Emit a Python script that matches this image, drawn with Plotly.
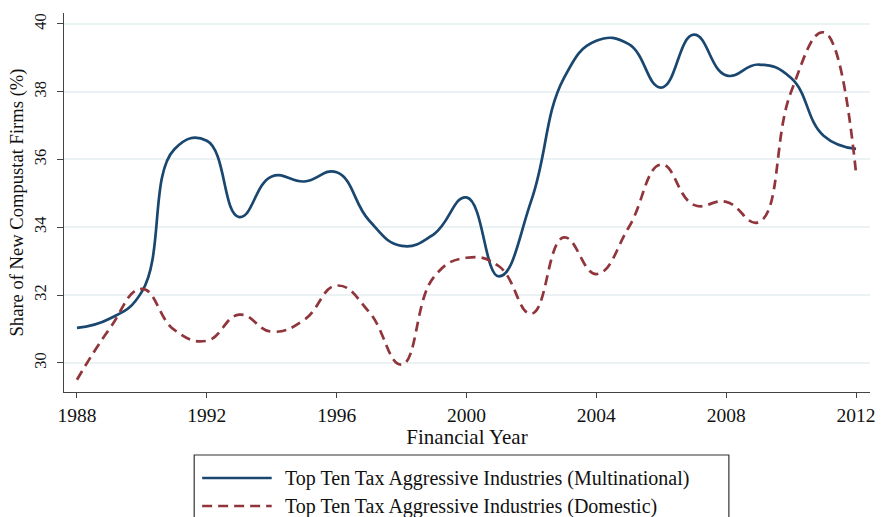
import plotly.graph_objects as go

# Financial years and share of new Compustat firms (%) per group
years = list(range(1988, 2013))
multinational = [31.03, 31.3, 32.1, 36.3, 36.55, 34.3, 35.5, 35.35, 35.62, 34.2,
                 33.45, 33.8, 34.88, 32.55, 34.8, 38.4, 39.5, 39.4, 38.12, 39.68,
                 38.48, 38.8, 38.4, 36.7, 36.31]
domestic = [29.5, 31.0, 32.18, 30.97, 30.65, 31.42, 30.92, 31.27, 32.28, 31.5,
            29.95, 32.54, 33.1, 32.85, 31.45, 33.7, 32.62, 34.0, 35.85, 34.66,
            34.75, 34.15, 38.0, 39.75, 35.6]

x_ticks = [1988, 1992, 1996, 2000, 2004, 2008, 2012]
y_ticks = [30, 32, 34, 36, 38, 40]

names = ["Top Ten Tax Aggressive Industries (Multinational)",
         "Top Ten Tax Aggressive Industries (Domestic)"]
colors = ["#1a476f", "#90353b"]
dashes = ["solid", "10px,6px"]

FONT = "Liberation Serif, Times New Roman, serif"

fig = go.Figure()
for ys, name, color, dash in zip([multinational, domestic], names, colors, dashes):
    fig.add_trace(go.Scatter(
        x=years, y=ys, mode="lines", name=name,
        line=dict(color=color, width=2.7, dash=dash, shape="spline", smoothing=1.3),
        showlegend=False,
    ))

# Boxed legend below the plot area
shapes = [dict(type="rect", xref="paper", yref="paper",
               x0=(195 - 64) / 811, x1=(733 - 64) / 811,
               y0=-0.36, y1=(392 - 455) / 379,
               line=dict(color="#333333", width=1.2), fillcolor="white")]
annotations = []
for i, (name, color, dash) in enumerate(zip(names, colors, dashes)):
    py = 478 + 28 * i
    yp = (392 - py) / 379
    shapes.append(dict(type="line", xref="paper", yref="paper",
                       x0=(203 - 64) / 811, x1=(273 - 64) / 811, y0=yp, y1=yp,
                       line=dict(color=color, width=2.7, dash=dash)))
    annotations.append(dict(xref="paper", yref="paper", x=(284 - 64) / 811, y=yp,
                            text=name, showarrow=False, xanchor="left", yanchor="middle",
                            font=dict(family=FONT, size=20, color="#111111")))

fig.update_layout(
    width=883, height=517,
    margin=dict(l=64, r=8, t=13, b=125),
    paper_bgcolor="white", plot_bgcolor="white",
    font=dict(family=FONT, size=16, color="#111111"),
    shapes=shapes, annotations=annotations,
    showlegend=False,
)
fig.update_xaxes(
    range=[1987.6, 2012.43], tickvals=x_ticks, ticktext=[str(t) for t in x_ticks],
    showgrid=False, zeroline=False,
    showline=True, linecolor="#444444", linewidth=1.2,
    ticks="outside", ticklen=5, tickcolor="#444444",
    tickfont=dict(family=FONT, size=19.5),
    title=dict(text="Financial Year", font=dict(family=FONT, size=21), standoff=0),
)
fig.update_yaxes(
    range=[29.14, 40.32], tickvals=y_ticks, ticktext=[str(t) for t in y_ticks],
    showgrid=True, gridcolor="#eaf2f3", gridwidth=1.5, zeroline=False,
    showline=True, linecolor="#444444", linewidth=1.2,
    ticks="outside", ticklen=6, tickcolor="#444444", tickangle=-90,
    ticklabelstandoff=4,
    tickfont=dict(family=FONT, size=16.5),
    title=dict(text="Share of New Compustat Firms (%)", font=dict(family=FONT, size=18.6), standoff=2),
)

fig.write_html("out.html")
